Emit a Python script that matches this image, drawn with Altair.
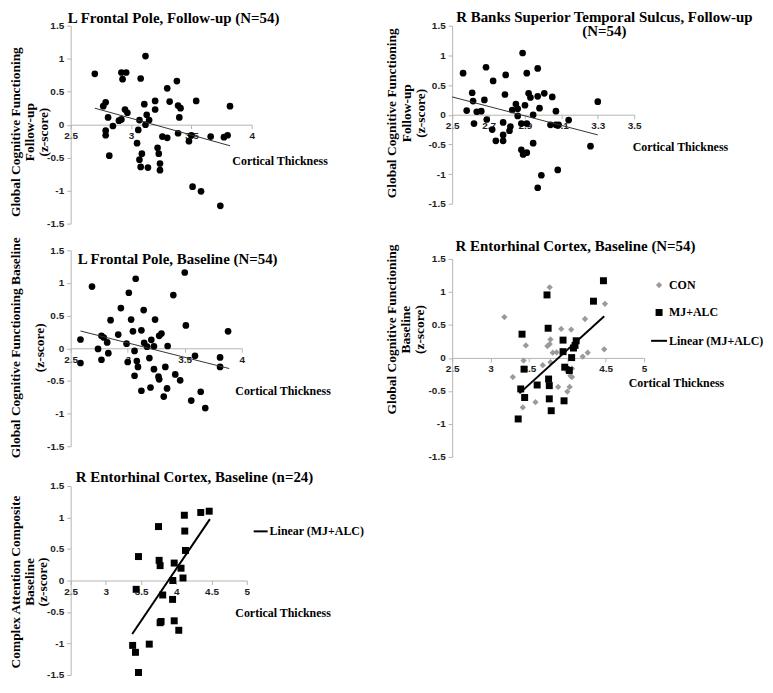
import altair as alt
import pandas as pd

# ---------------- data ----------------
# Panel 1: L Frontal Pole, Follow-up
p1_x = [2.70, 2.92, 2.96, 2.93, 3.12, 3.08, 3.30, 3.38, 2.77, 2.79, 2.81, 2.79, 2.79, 2.82, 2.85, 2.90, 2.92, 2.95,
        2.97, 3.07, 3.11, 3.13, 3.15, 3.12, 3.06, 3.05, 3.09, 3.07, 3.08, 3.14, 3.20, 3.20, 3.26, 3.30, 3.22, 3.23,
        3.24, 3.24, 3.32, 3.39, 3.41, 3.40, 3.39, 3.54, 3.50, 3.48, 3.66, 3.77, 3.80, 3.82, 3.51, 3.58, 3.74]
p1_y = [0.77, 0.79, 0.79, 0.69, 1.04, 0.70, 0.55, 0.66, 0.28, 0.34, 0.11, -0.09, -0.16, -0.47, -0.02, 0.06, 0.08, 0.23,
        0.18, 0.07, 0.31, 0.15, 0.07, 0.00, -0.08, -0.28, -0.44, -0.53, -0.64, -0.65, 0.36, 0.23, -0.18, -0.20, -0.35,
        -0.44, -0.59, -0.69, 0.35, 0.29, 0.25, 0.11, -0.13, 0.36, -0.16, -0.25, -0.18, -0.19, -0.16, 0.28, -0.94,
        -1.01, -1.23]
p1_fit_x = [2.70, 3.82]
p1_fit_y = [0.25, -0.32]

# Panel 2: R Banks Superior Temporal Sulcus, Follow-up
p2_x = [2.56, 2.686, 2.725, 2.794, 2.887, 2.91, 2.97, 2.61, 2.615, 2.677, 2.58, 2.635, 2.66, 2.62, 2.69, 2.72, 2.74,
        2.78, 2.78, 2.78, 2.79, 2.82, 2.815, 2.83, 2.85, 2.86, 2.86, 2.88, 2.91, 2.90, 2.92, 2.93, 2.97, 3.006, 2.98,
        2.945, 2.945, 2.88, 2.89, 2.91, 2.99, 2.97, 3.08, 3.05, 3.07, 3.04, 3.07, 3.085, 3.14, 3.30, 3.26]
p2_y = [0.70, 0.80, 0.57, 0.67, 1.04, 0.70, 0.78, 0.37, 0.23, 0.25, 0.07, 0.05, 0.06, -0.15, -0.08, -0.25, -0.44,
        -0.13, -0.34, -0.44, 0.34, -0.20, -0.27, 0.08, 0.18, 0.10, -0.02, -0.15, -0.15, 0.16, 0.36, 0.29, 0.31, 0.36,
        0.11, 0.00, -0.48, -0.59, -0.67, -0.64, -1.02, -1.23, -0.93, 0.30, 0.06, -0.17, -0.17, -0.17, -0.09, 0.22,
        -0.53]
p2_fit_x = [2.50, 3.30]
p2_fit_y = [0.30, -0.34]

# Panel 3: L Frontal Pole, Baseline
p3_x = [2.586, 2.586, 2.687, 2.74, 2.77, 2.79, 2.82, 2.77, 2.83, 2.85, 2.917, 2.94, 2.99, 3.00, 3.01, 3.03, 3.046,
        3.07, 3.06, 3.08, 3.09, 3.06, 3.12, 3.14, 3.144, 3.17, 3.12, 3.19, 3.207, 3.23, 3.23, 3.24, 3.276, 3.296,
        3.27, 3.276, 3.20, 3.33, 3.35, 3.345, 3.316, 3.40, 3.417, 3.46, 3.50, 3.51, 3.59, 3.557, 3.64, 3.68, 3.81,
        3.81, 3.88]
p3_y = [0.135, -0.225, 0.945, -0.01, 0.19, 0.165, 0.09, -0.175, -0.075, 0.43, 0.21, 0.615, 0.07, -0.21, 0.85, 0.44,
        0.26, 1.065, -0.04, -0.195, -0.285, -0.42, 0.275, 0.585, 0.085, 0.025, -0.65, -0.15, 0.13, 0.03, -0.32, 0.44,
        0.19, 0.225, -0.435, -0.475, -0.60, -0.285, 0.035, -0.615, -0.74, 0.815, -0.40, -0.49, 1.16, 0.35, -0.115,
        -0.80, -0.665, -0.915, -0.14, -0.285, 0.26]
p3_fit_x = [2.586, 3.89]
p3_fit_y = [0.265, -0.31]

# Panel 4: R Entorhinal Cortex, Baseline (N=54)
p4_con_x = [3.18, 3.77, 3.43, 3.46, 3.29, 3.42, 3.585, 3.68, 3.74, 3.77, 3.78, 3.78, 3.86, 3.88, 3.92, 4.05, 4.00,
            4.00, 4.03, 4.06, 4.06, 4.04, 4.20, 4.265, 4.23, 4.49, 4.48, 3.81]
p4_con_y = [0.62, 1.07, -0.04, 0.19, -0.29, -0.75, -0.67, -0.11, 0.18, 0.21, 0.28, -0.065, 0.085, -0.44, 0.44, 0.43,
            -0.20, -0.51, -0.44, -0.16, -0.29, -0.27, 0.02, 0.08, 0.59, 0.82, 0.13, 0.08]
p4_mj_x = [4.47, 4.34, 3.735, 3.75, 3.41, 3.944, 4.115, 4.10, 4.08, 3.944, 4.056, 3.966, 4.026, 3.436, 3.756, 3.765,
           3.607, 3.393, 3.444, 3.765, 3.957, 3.79, 3.36]
p4_mj_y = [1.17, 0.86, 0.955, 0.45, 0.36, 0.27, 0.26, 0.19, 0.15, 0.095, 0.005, -0.14, -0.19, -0.17, -0.32, -0.42,
           -0.41, -0.47, -0.60, -0.62, -0.65, -0.80, -0.925]
p4_fit_x = [3.376, 4.48]
p4_fit_y = [-0.537, 0.63]

# Panel 5: R Entorhinal Cortex, Baseline (n=24)
p5_x = [4.467, 4.347, 4.114, 3.747, 4.12, 4.13, 3.463, 3.756, 3.77, 3.97, 4.067, 4.095, 3.95, 3.43, 3.807, 3.947,
        3.784, 3.97, 4.035, 3.616, 3.38, 3.42, 3.463, 3.77]
p5_y = [1.10, 1.08, 1.036, 0.856, 0.785, 0.477, 0.38, 0.32, 0.236, 0.277, 0.195, 0.04, 0.00, -0.14, -0.23, -0.30,
        -0.65, -0.64, -0.79, -1.01, -1.03, -1.14, -1.46, -0.67]
p5_fit_x = [3.374, 4.477]
p5_fit_y = [-0.85, 0.974]

y_ticks = [-1.5, -1, -0.5, 0, 0.5, 1, 1.5]
x_ticks_a = [2.5, 3, 3.5, 4]
x_ticks_b = [2.5, 2.7, 2.9, 3.1, 3.3, 3.5]
x_ticks_c = [2.5, 3, 3.5, 4, 4.5, 5]
groups = ["CON", "MJ+ALC", "Linear (MJ+ALC)"]

SERIF = "Liberation Serif"
SANS = "Liberation Sans"
AXIS_GRAY = "#b4b4b4"


def xenc(xdom, xticks, h, tx, ty):
    return alt.X("x:Q", scale=alt.Scale(domain=xdom, nice=False, zero=False),
                 axis=alt.Axis(values=xticks, labelExpr="'' + datum.value", offset=-h / 2,
                               title="Cortical Thickness", titleX=tx, titleY=ty,
                               titleAlign="center", titleBaseline="middle", titleFontSize=12,
                               tickSize=4, labelPadding=2, labelFlush=False, labelOverlap=False,
                               zindex=0))


def yenc(title, tx, ty, lh):
    return alt.Y("y:Q", scale=alt.Scale(domain=[-1.5, 1.5], nice=False, zero=False),
                 axis=alt.Axis(values=y_ticks, labelExpr="'' + datum.value", title=title,
                               titleX=tx, titleY=ty, titleAngle=270, titleAlign="center",
                               titleBaseline="middle", titleLineHeight=lh, titleFontSize=13.5,
                               tickSize=4, labelPadding=3, labelFlush=False, labelOverlap=False,
                               zindex=0))


def ttl(text, dx, dy):
    return alt.TitleParams(text=text, anchor="start", frame="group", align="center", dx=dx, dy=dy,
                           offset=0, baseline="alphabetic", font=SERIF, fontSize=15,
                           fontWeight="bold", color="black", lineHeight=14)


def fit_layer(fx, fy, xe, ye, width, color):
    df = pd.DataFrame({"x": fx, "y": fy})
    return alt.Chart(df).mark_line(color=color, strokeWidth=width).encode(x=xe, y=ye)


# ---------------- panel 1 ----------------
w1, h1 = 182, 199
xe = xenc([2.5, 4], x_ticks_a, h1, 210, 36)
ye = yenc(["Global Cognitive Functioning", "Follow-up", "(z-score)"], -55, h1 / 2 + 7, 13.75)
c1 = alt.layer(
    alt.Chart(pd.DataFrame({"x": p1_x, "y": p1_y})).mark_circle(size=45, color="black", opacity=1).encode(x=xe, y=ye),
    fit_layer(p1_fit_x, p1_fit_y, xe, ye, 1, "#333333"),
).properties(width=w1, height=h1, title=ttl("L Frontal Pole, Follow-up (N=54)", 103.5, 17))

# ---------------- panel 2 ----------------
w2, h2 = 183, 179
xe = xenc([2.5, 3.5], x_ticks_b, h2, 229, 32)
ye = yenc(["Global Cognitive Functioning", "Follow-up", "(z-score)"], -60.5, h2 / 2 - 2, 14.5)
c2 = alt.layer(
    alt.Chart(pd.DataFrame({"x": p2_x, "y": p2_y})).mark_circle(size=45, color="black", opacity=1).encode(x=xe, y=ye),
    fit_layer(p2_fit_x, p2_fit_y, xe, ye, 1, "#333333"),
).properties(width=w2, height=h2,
             title=ttl(["R Banks Superior Temporal Sulcus, Follow-up", "(N=54)"], 153, 30))

# ---------------- panel 3 ----------------
w3, h3 = 172, 197
xe = xenc([2.5, 4], x_ticks_a, h3, 213, 42)
ye = yenc(["Global Cognitive Functioning Baseline", "(z-score)"], -55, h3 / 2 - 1, 24)
c3 = alt.layer(
    alt.Chart(pd.DataFrame({"x": p3_x, "y": p3_y})).mark_circle(size=45, color="black", opacity=1).encode(x=xe, y=ye),
    fit_layer(p3_fit_x, p3_fit_y, xe, ye, 1, "#333333"),
).properties(width=w3, height=h3, title=ttl("L Frontal Pole, Baseline (N=54)", 107.5, 42))

# ---------------- panel 4 ----------------
w4, h4 = 193, 199
xe = xenc([2.5, 5], x_ticks_c, h4, 225, 25)
ye = yenc(["Global Cognitive Functioning", "Baseline", "(z-score)"], -60.5, h4 / 2 - 29, 14)
p4_df = pd.DataFrame({
    "x": p4_con_x + p4_mj_x,
    "y": p4_con_y + p4_mj_y,
    "grp": ["CON"] * len(p4_con_x) + ["MJ+ALC"] * len(p4_mj_x),
})
leg4 = alt.Legend(orient="none", legendX=199, legendY=20.3, title=None, padding=0, rowPadding=11.5,
                  labelOffset=1, labelFont=SERIF, labelFontSize=12, labelFontWeight="bold",
                  labelColor="black", symbolStrokeWidth=2)
c4 = alt.layer(
    alt.Chart(p4_df).mark_point(filled=True, opacity=1, strokeWidth=2).encode(
        x=xe, y=ye,
        fill=alt.Fill("grp:N", scale=alt.Scale(domain=groups, range=["#9a9a9a", "#000000", "transparent"]), legend=leg4),
        stroke=alt.Stroke("grp:N", scale=alt.Scale(domain=groups, range=["transparent", "transparent", "#000000"]), legend=leg4),
        shape=alt.Shape("grp:N", scale=alt.Scale(domain=groups, range=["diamond", "square", "stroke"]), legend=leg4),
        size=alt.Size("grp:N", scale=alt.Scale(type="ordinal", domain=groups, range=[40, 49, 256]), legend=leg4),
    ),
    fit_layer(p4_fit_x, p4_fit_y, xe, ye, 2, "#000000"),
).properties(width=w4, height=h4, title=ttl("R Entorhinal Cortex, Baseline (N=54)", 124, 22))

# ---------------- panel 5 ----------------
w5, h5 = 177, 190
xe = xenc([2.5, 5], x_ticks_c, h5, 213, 32)
ye = yenc(["Complex Attention Composite", "Baseline", "(z-score)"], -55, h5 / 2 + 1, 13.3)
fit5 = pd.DataFrame({"x": p5_fit_x, "y": p5_fit_y, "lbl": ["Linear (MJ+ALC)"] * 2})
leg5 = alt.Legend(orient="none", legendX=183, legendY=37.6, title=None, padding=0, labelOffset=1,
                  labelFont=SERIF, labelFontSize=12, labelFontWeight="bold", labelColor="black",
                  symbolType="stroke", symbolSize=196, symbolStrokeWidth=2)
c5 = alt.layer(
    alt.Chart(pd.DataFrame({"x": p5_x, "y": p5_y})).mark_square(size=49, color="black", opacity=1).encode(x=xe, y=ye),
    alt.Chart(fit5).mark_line(strokeWidth=2).encode(
        x=xe, y=ye,
        stroke=alt.Stroke("lbl:N", scale=alt.Scale(domain=["Linear (MJ+ALC)"], range=["#000000"]), legend=leg5)),
).properties(width=w5, height=h5, title=ttl("R Entorhinal Cortex, Baseline (n=24)", 124.5, 16))

indep = dict(fill="independent", stroke="independent", shape="independent", size="independent",
             color="independent")


def res(ch):
    return ch.resolve_scale(**indep).resolve_legend(fill="independent", stroke="independent",
                                                     shape="independent", size="independent",
                                                     color="independent")


# nested concat groups have no flush size, so spacing after a nested group is the full offset
top_left = res(alt.vconcat(c1, c3, spacing=26.8, bounds="flush"))
left = res(alt.vconcat(top_left, c5, spacing=462.75, bounds="flush"))
right = res(alt.vconcat(c2, c4, spacing=55.5, bounds="flush"))
chart = res(alt.hconcat(left, right, spacing=383.5, bounds="flush"))

chart = chart.properties(
    padding={"left": 0, "top": 0, "right": 0, "bottom": 0},
).configure_view(stroke=None).configure_axis(
    grid=False, domainColor=AXIS_GRAY, tickColor=AXIS_GRAY, domainWidth=1, tickWidth=1,
    labelFont=SANS, labelFontWeight="bold", labelFontSize=10, labelColor="#1e1e1e",
    titleFont=SERIF, titleFontWeight="bold", titleColor="black",
)

chart.save("out.html", embed_options={"renderer": "svg", "actions": False})
